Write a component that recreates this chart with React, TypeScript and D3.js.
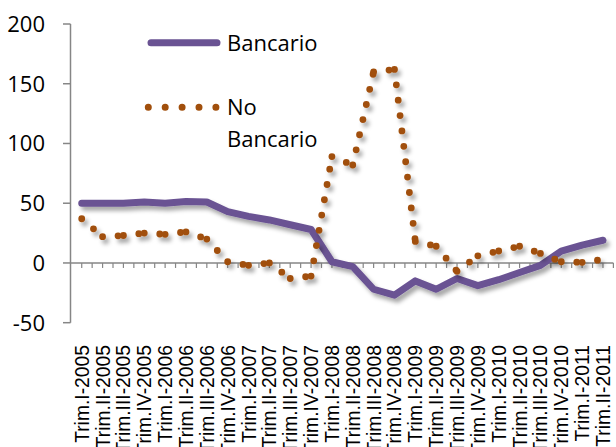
import * as d3 from 'd3'

const quarters = [
  'Trim.I-2005', 'Trim.II-2005', 'Trim.III-2005', 'Trim.IV-2005',
  'Trim.I-2006', 'Trim.II-2006', 'Trim.III-2006', 'Trim.IV-2006',
  'Trim.I-2007', 'Trim.II-2007', 'Trim.III-2007', 'Trim.IV-2007',
  'Trim.I-2008', 'Trim.II-2008', 'Trim.III-2008', 'Trim.IV-2008',
  'Trim.I-2009', 'Trim.II-2009', 'Trim.III-2009', 'Trim.IV-2009',
  'Trim.I-2010', 'Trim.II-2010', 'Trim.III-2010', 'Trim.IV-2010',
  'Trim.I-2011', 'Trim.II-2011',
]

const bancario = [50, 50, 50, 51, 50, 51.5, 51, 43, 39, 36, 32, 28, 1, -3, -22, -27, -15, -22, -13, -19, -14, -8, -2, 10, 15, 19]
const noBancario = [37, 22, 23, 25, 24, 26, 20, 1, -2, 0, -13, -11, 89, 82, 160, 162, 18, 14, -7, 6, 10, 14, 8, 1, 0.5, 3]

const yTicks = [-50, 0, 50, 100, 150, 200]

const W = 616
const H = 447
const purple = '#6A5393'
const brown = '#A14F0C'
const axisColor = '#868686'

export default function App() {
  const x = d3.scaleBand<string>().domain(quarters).range([71.3, 613.4])
  const y = d3.scaleLinear().domain([-50, 200]).range([322.7, 24])
  const cx = (i: number) => (x(quarters[i]) as number) + x.bandwidth() / 2

  const line = d3
    .line<number>()
    .x((_, i) => cx(i))
    .y((d) => y(d))

  // each segment restarts its dot pattern, like the original
  const segments = d3.pairs(noBancario.map((v, i) => [cx(i), y(v)] as [number, number]))
  const segLine = d3.line<[number, number]>()

  // minor ticks at every half category
  const half = x.bandwidth() / 2
  const xTickPos = d3.range(1, quarters.length * 2 + 1).map((k) => 71.3 + k * half)

  return (
    <div style={{ position: 'absolute', left: 0, top: 0 }}>
      <svg width={W} height={H} style={{ display: 'block' }}>
        <defs>
          <filter id="shadow" x="-10%" y="-10%" width="130%" height="130%">
            <feDropShadow dx="3" dy="4" stdDeviation="2.2" floodColor="#000" floodOpacity="0.35" />
          </filter>
        </defs>
        <rect width={W} height={H} fill="#fff" />

        {/* y axis */}
        <line x1={70.5} x2={70.5} y1={y(200)} y2={y(-50)} stroke={axisColor} strokeWidth={1.5} />
        {yTicks.map((t) => (
          <g key={t}>
            <line x1={63} x2={70.5} y1={y(t)} y2={y(t)} stroke={axisColor} strokeWidth={1.5} />
            <text
              x={45}
              y={y(t)}
              dy="0.36em"
              textAnchor="end"
              fontFamily="Open Sans"
              fontSize={22}
              fill="#000"
            >
              {t}
            </text>
          </g>
        ))}

        {/* x axis at zero */}
        <line x1={70.5} x2={613.4} y1={y(0)} y2={y(0)} stroke={axisColor} strokeWidth={1.5} />
        {xTickPos.map((p, i) => (
          <line key={i} x1={p} x2={p} y1={y(0)} y2={y(0) + 5} stroke={axisColor} strokeWidth={1.2} />
        ))}
        {quarters.map((q, i) => (
          <text
            key={q}
            transform={`translate(${cx(i) + 7},345) rotate(-90)`}
            textAnchor="end"
            fontFamily="Liberation Sans"
            fontSize={19.3}
            fill="#000"
          >
            {q}
          </text>
        ))}

        {/* series */}
        <g filter="url(#shadow)">
          <path d={line(bancario) ?? ''} fill="none" stroke={purple} strokeWidth={7} strokeLinejoin="round" strokeLinecap="round" />
        </g>
        <g filter="url(#shadow)">
          {segments.map((s, i) => (
            <path
              key={i}
              d={segLine(s) ?? ''}
              fill="none"
              stroke={brown}
              strokeWidth={6.8}
              strokeLinecap="round"
              strokeDasharray="0 15.5"
            />
          ))}
        </g>

        {/* legend */}
        <line x1={151} x2={217} y1={42.7} y2={42.7} stroke={purple} strokeWidth={7} strokeLinecap="round" />
        <text x={227} y={50.7} fontFamily="Open Sans" fontSize={22} fill="#000">Bancario</text>
        <line x1={148.3} x2={216.5} y1={107.3} y2={107.3} stroke={brown} strokeWidth={7} strokeLinecap="round" strokeDasharray="0 16.9" />
        <text x={227} y={115} fontFamily="Open Sans" fontSize={22} fill="#000">No</text>
        <text x={227} y={146.7} fontFamily="Open Sans" fontSize={22} fill="#000">Bancario</text>
      </svg>
    </div>
  )
}
